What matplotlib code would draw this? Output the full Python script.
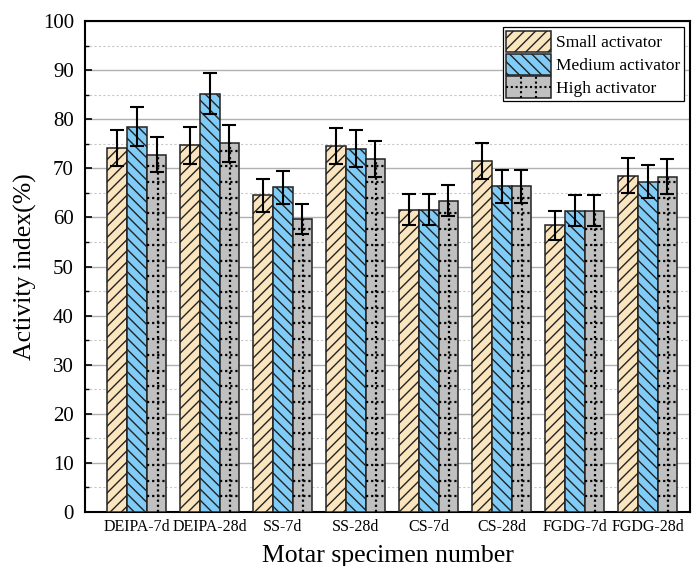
import numpy as np
import matplotlib
matplotlib.use("Agg")
import matplotlib.pyplot as plt
from matplotlib.ticker import MultipleLocator
from matplotlib.patches import Rectangle
from matplotlib.lines import Line2D
from matplotlib.legend_handler import HandlerPatch

plt.rcParams['font.family'] = ['Liberation Serif', 'DejaVu Serif']
plt.rcParams['hatch.linewidth'] = 1.0

# 数据
groups = ["DEIPA-7d", "DEIPA-28d", "SS-7d", "SS-28d", "CS-7d", "CS-28d", "FGDG-7d", "FGDG-28d"]
series = ["Small activator", "Medium activator", "High activator"]
small = [74.1, 74.7, 64.5, 74.5, 61.6, 71.5, 58.4, 68.5]
medium = [78.5, 85.2, 66.1, 74.0, 61.6, 66.3, 61.4, 67.3]
high = [72.8, 75.1, 59.7, 71.9, 63.4, 66.3, 61.4, 68.3]
small_err = [3.7, 3.8, 3.3, 3.7, 3.1, 3.6, 3.0, 3.5]
medium_err = [3.9, 4.2, 3.3, 3.7, 3.1, 3.3, 3.1, 3.4]
high_err = [3.6, 3.8, 3.0, 3.7, 3.2, 3.3, 3.1, 3.5]

colors = ["#FBE5BE", "#80CCF7", "#C0C0C0"]
hatches = ["///", "\\\\\\", None]
DOTS = (0, (1.0, 1.3))


# 图例里的点状网格
class DotGridHandler(HandlerPatch):
    def create_artists(self, legend, orig_handle, xdescent, ydescent, width, height, fontsize, trans):
        x0, y0 = -xdescent, -ydescent
        rect = Rectangle((x0, y0), width, height, facecolor=colors[2], edgecolor="#222222",
                         lw=1.1, transform=trans)
        arts = [rect]
        for fx in (0.33, 0.67):
            arts.append(Line2D([x0 + fx * width] * 2, [y0, y0 + height], ls=DOTS, color="black",
                               lw=1.5, transform=trans))
        arts.append(Line2D([x0, x0 + width], [y0 + height / 2] * 2, ls=DOTS, color="black",
                           lw=1.5, transform=trans))
        return arts


fig = plt.figure(figsize=(6.92, 5.66), dpi=100)
ax = fig.add_axes([85/692, 1 - 512/566, 605/692, 491/566])

x = np.arange(len(groups))
w = 0.27
vals = [small, medium, high]
errs = [small_err, medium_err, high_err]
handles = []
for i in range(3):
    bars = ax.bar(x + (i - 1) * w, vals[i], w, color=colors[i], edgecolor="#222222",
                  linewidth=1.1, hatch=hatches[i], label=series[i], zorder=3)
    ax.errorbar(x + (i - 1) * w, vals[i], yerr=errs[i], fmt="none", ecolor="black",
                elinewidth=1.5, capsize=5, capthick=1.5, zorder=5)
    handles.append(Rectangle((0, 0), 1, 1, facecolor=colors[i], edgecolor="#222222",
                             lw=1.1, hatch=hatches[i]))
    if i == 2:
        # 点状网格填充
        for b in bars:
            bx, bw, bh = b.get_x(), b.get_width(), b.get_height()
            ax.plot([bx + bw * 0.55] * 2, [0, bh], ls=DOTS, color="black", lw=1.6, zorder=4)
            for yy in np.arange(3.2, bh - 0.8, 3.2):
                ax.plot([bx + 0.01, bx + bw - 0.01], [yy, yy], ls=DOTS, color="black",
                        lw=1.6, zorder=4)

ax.set_xlim(-0.71, 7.58)
ax.set_ylim(0, 100)
ax.yaxis.set_major_locator(MultipleLocator(10))
ax.yaxis.set_minor_locator(MultipleLocator(5))
ax.grid(which="major", axis="y", color="#b0b0b0", lw=1.0, zorder=0)
ax.grid(which="minor", axis="y", color="#c8c8c8", lw=0.8, ls=(0, (2, 2)), zorder=0)
ax.set_axisbelow(True)
ax.set_xticks(x)
ax.set_xticklabels(groups, fontsize=11.5)
ax.tick_params(axis="x", length=0, pad=5)
ax.tick_params(axis="y", which="major", direction="in", length=5, width=1.2, labelsize=15, pad=8)
ax.tick_params(axis="y", which="minor", direction="in", length=3, width=1.0)
for s in ax.spines.values():
    s.set_linewidth(1.5)
ax.set_xlabel("Motar specimen number", fontsize=18.5, labelpad=7)
ax.set_ylabel("Activity index(%)", fontsize=18.5, labelpad=4)

leg = ax.legend(handles=handles, labels=series, loc="upper right", bbox_to_anchor=(0.998, 0.998),
                fontsize=12.5, frameon=True, fancybox=False, edgecolor="black", framealpha=1,
                handlelength=2.55, handleheight=1.5, handletextpad=0.3, borderpad=0.2,
                labelspacing=0.1, borderaxespad=0.3,
                handler_map={handles[2]: DotGridHandler()})
leg.get_frame().set_linewidth(0.9)

fig.savefig("out.png", dpi=100)
